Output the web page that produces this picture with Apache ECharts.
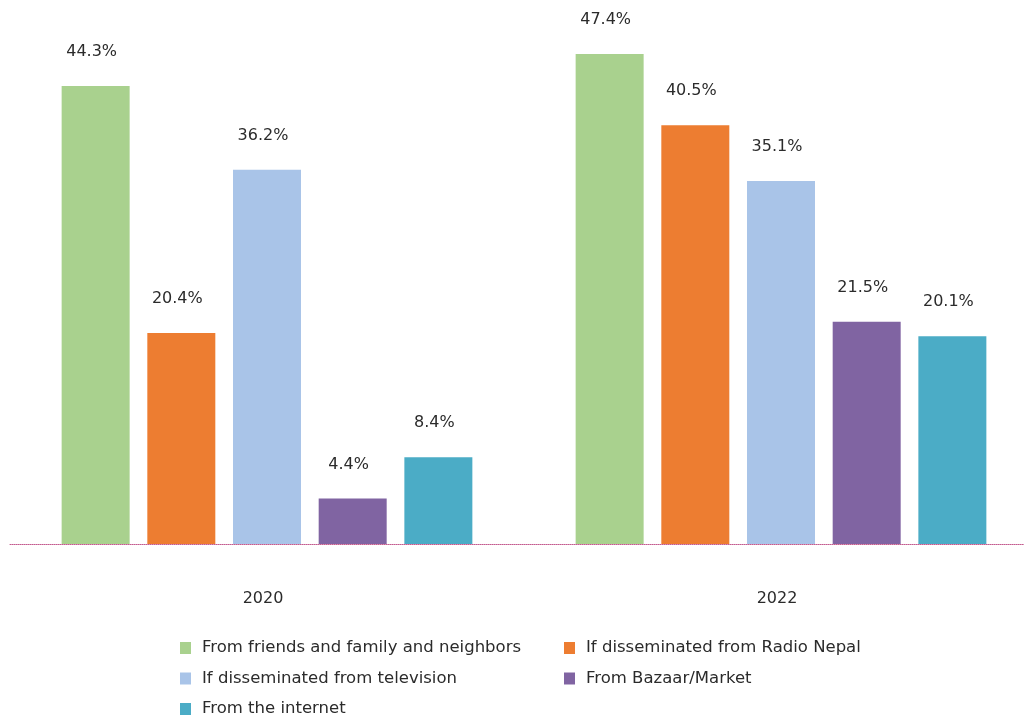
<!DOCTYPE html>
<html>
<head>
<meta charset="utf-8">
<style>
  html, body { margin: 0; padding: 0; background: #fff; }
  #chart { width: 1024px; height: 719px; }
</style>
<script src="https://cdn.jsdelivr.net/npm/echarts@6/dist/echarts.min.js"></script>
</head>
<body>
<div id="chart"></div>
<script>
// Survey years on the category axis
const years = ['2020', '2022'];

// Share of respondents (%) by information source
const friendsFamily = [44.3, 47.4];
const radioNepal = [20.4, 40.5];
const television = [36.2, 35.1];
const bazaar = [4.4, 21.5];
const internet = [8.4, 20.1];

const seriesNames = [
  'From friends and family and neighbors',
  'If disseminated from Radio Nepal',
  'If disseminated from television',
  'From Bazaar/Market',
  'From the internet'
];
const seriesValues = [friendsFamily, radioNepal, television, bazaar, internet];
const colors = ['#A9D18E', '#ED7D31', '#A9C4E8', '#8064A2', '#4BACC6'];

const fontFamily = '"DejaVu Sans", Verdana, sans-serif';
const textColor = '#2b2b2b';

const chart = echarts.init(document.getElementById('chart'), null, { renderer: 'canvas' });

const legendCommon = {
  orient: 'vertical',
  top: 639,
  height: 80,
  padding: 0,
  itemWidth: 11,
  itemHeight: 12,
  itemGap: 12.5,
  icon: 'rect',
  textStyle: { fontFamily, fontSize: 16.5, color: textColor, padding: [0, 0, 0, 6], lineHeight: 18 },
  selectedMode: false
};

chart.setOption({
  animation: false,
  color: colors,
  grid: { left: 10, width: 1028, top: 27, bottom: 175, outerBoundsMode: 'none', containLabel: false },
  legend: [
    Object.assign({ left: 180, data: [seriesNames[0], seriesNames[2], seriesNames[4]] }, legendCommon),
    Object.assign({ left: 564, data: [seriesNames[1], seriesNames[3]] }, legendCommon)
  ],
  xAxis: {
    type: 'category',
    data: years,
    axisTick: { show: false },
    axisLine: { show: true, lineStyle: { color: '#C45A8E', type: 'dotted', width: 1 } },
    axisLabel: { margin: 47, fontFamily, fontSize: 16, color: textColor, padding: [0, 8, 0, 0] }
  },
  yAxis: {
    type: 'value',
    min: 0,
    max: 50,
    show: false,
    splitLine: { show: false }
  },
  series: seriesNames.map((name, i) => ({
    name,
    type: 'bar',
    data: seriesValues[i],
    barWidth: 68,
    barGap: '26%',
    itemStyle: { color: colors[i] },
    label: {
      show: true,
      position: 'top',
      distance: 26,
      offset: [-4, 0],
      formatter: p => p.value.toFixed(1) + '%',
      fontFamily,
      fontSize: 16,
      color: textColor
    }
  }))
});
</script>
</body>
</html>
